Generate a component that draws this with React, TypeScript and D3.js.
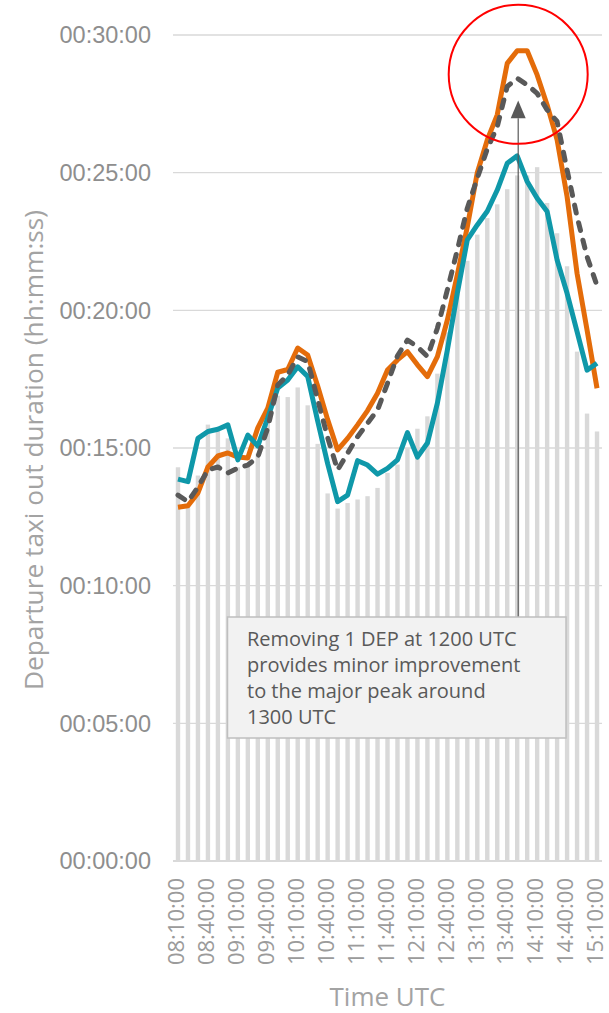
import React from "react";
import * as d3 from "d3";

// departure slots (10 min)
const times = [
  "08:10:00", "08:20:00", "08:30:00", "08:40:00", "08:50:00", "09:00:00",
  "09:10:00", "09:20:00", "09:30:00", "09:40:00", "09:50:00", "10:00:00",
  "10:10:00", "10:20:00", "10:30:00", "10:40:00", "10:50:00", "11:00:00",
  "11:10:00", "11:20:00", "11:30:00", "11:40:00", "11:50:00", "12:00:00",
  "12:10:00", "12:20:00", "12:30:00", "12:40:00", "12:50:00", "13:00:00",
  "13:10:00", "13:20:00", "13:30:00", "13:40:00", "13:50:00", "14:00:00",
  "14:10:00", "14:20:00", "14:30:00", "14:40:00", "14:50:00", "15:00:00",
  "15:10:00",
];

// values in minutes
const barValues = [
  14.3, 12.9, 14.0, 15.85, 15.65, 15.35, 14.3, 14.4, 14.8, 16.0, 16.9, 16.85,
  17.2, 16.55, 15.15, 13.35, 12.8, 13.0, 13.13, 13.25, 13.55, 14.1, 14.4, 15.0,
  15.7, 16.15, 17.7, 19.2, 20.6, 21.8, 22.75, 23.35, 23.85, 24.4, 24.9, 24.9,
  25.2, 23.9, 22.8, 21.6, 18.5, 16.25, 15.6,
];

const orangeValues = [
  12.85, 12.9, 13.37, 14.31, 14.71, 14.82, 14.67, 14.64, 15.73, 16.45, 17.75,
  17.85, 18.63, 18.38, 17.25, 16.03, 14.93, 15.35, 15.84, 16.36, 16.99, 17.83,
  18.2, 18.5, 18.02, 17.59, 18.32, 19.65, 21.29, 23.04, 25.0, 26.19, 27.1,
  28.97, 29.43, 29.43, 28.55, 27.46, 26.19, 24.13, 21.34, 19.29, 17.17,
];

const tealValues = [
  13.87, 13.78, 15.35, 15.6, 15.68, 15.84, 14.57, 15.47, 15.07, 16.1, 17.18,
  17.47, 17.95, 17.6, 15.98, 14.43, 13.05, 13.29, 14.54, 14.38, 14.05, 14.26,
  14.57, 15.56, 14.67, 15.18, 16.63, 18.56, 20.63, 22.56, 23.1, 23.6, 24.37,
  25.34, 25.61, 24.68, 24.07, 23.59, 21.83, 20.62, 19.23, 17.83, 18.08,
];

const dashedValues = [
  13.29, 13.05, 13.58, 14.2, 14.31, 14.09, 14.27, 14.38, 14.67, 15.73, 17.29,
  17.65, 18.31, 18.14, 16.76, 15.38, 14.2, 14.81, 15.41, 15.9, 16.38, 17.35,
  18.35, 18.92, 18.68, 18.32, 19.35, 20.74, 22.19, 23.71, 24.8, 25.86, 26.67,
  28.13, 28.43, 28.19, 27.88, 27.28, 26.86, 25.1, 23.4, 21.95, 20.9,
];

const yTicks = [0, 5, 10, 15, 20, 25, 30];

const noteLines = [
  "Removing 1 DEP at 1200 UTC",
  "provides minor improvement",
  "to the major peak around",
  "1300 UTC",
];
const noteTime = "13:50:00";

const fmt = (m: number) => {
  const s = Math.round(m * 60);
  const hh = String(Math.floor(s / 3600)).padStart(2, "0");
  const mm = String(Math.floor((s % 3600) / 60)).padStart(2, "0");
  const ss = String(s % 60).padStart(2, "0");
  return `${hh}:${mm}:${ss}`;
};

const W = 609;
const H = 1013;
const left = 173;
const right = 602;
const top = 35;
const bottom = 861;

export default function App() {
  const x = d3
    .scaleBand<string>()
    .domain(times)
    .range([left, right])
    .paddingInner(0.56)
    .paddingOuter(0.28);
  const xc = (t: string) => (x(t) || 0) + x.bandwidth() / 2;
  const y = d3.scaleLinear().domain([0, 30]).range([bottom, top]);

  const line = d3
    .line<number>()
    .x((_, i) => xc(times[i]))
    .y((d) => y(d));

  const arrowX = xc(noteTime) + 1;
  const tipY = y(27.62);
  const baseY = y(26.98);
  const circleY = y(28.57);

  const sans = "'Open Sans', 'DejaVu Sans', sans-serif";

  return (
    <svg
      width={W}
      height={H}
      style={{ position: "absolute", left: 0, top: 0, background: "#fff" }}
    >
      {/* gridlines */}
      {yTicks.map((t) => (
        <line
          key={t}
          x1={left}
          x2={right}
          y1={y(t)}
          y2={y(t)}
          stroke="#d9d9d9"
          strokeWidth={t === 0 ? 1.8 : 1.3}
        />
      ))}
      {yTicks.map((t) => (
        <text
          key={"yl" + t}
          x={151}
          y={y(t)}
          dy="0.35em"
          textAnchor="end"
          fontFamily="'Liberation Sans', Arial, sans-serif"
          fontSize={23.5}
          fill="#8e8e8e"
        >
          {fmt(t)}
        </text>
      ))}

      {/* bars */}
      {barValues.map((v, i) => (
        <rect
          key={"b" + i}
          x={x(times[i])}
          y={y(v)}
          width={x.bandwidth()}
          height={y(0) - y(v)}
          fill="#d9d9d9"
        />
      ))}

      {/* x tick labels */}
      {times.map((t, i) =>
        i % 3 === 0 ? (
          <text
            key={"xl" + t}
            transform={`translate(${xc(t) - 1},878) rotate(-90)`}
            dy="0.33em"
            textAnchor="end"
            fontFamily={sans}
            fontSize={22}
            fill="#9b9b9b"
          >
            {t}
          </text>
        ) : null
      )}

      {/* axis titles */}
      <text
        transform={`translate(42.5,${(top + bottom) / 2 + 2}) rotate(-90)`}
        textAnchor="middle"
        fontFamily={sans}
        fontSize={26.3}
        fill="#a3a3a3"
      >
        Departure taxi out duration (hh:mm:ss)
      </text>
      <text
        x={(left + right) / 2}
        y={1006}
        textAnchor="middle"
        fontFamily={sans}
        fontSize={26}
        fill="#a3a3a3"
      >
        Time UTC
      </text>

      {/* series */}
      <path
        d={line(orangeValues) || ""}
        fill="none"
        stroke="#e46c0a"
        strokeWidth={5}
        strokeLinejoin="round"
      />
      <path
        d={line(tealValues) || ""}
        fill="none"
        stroke="#0f98a9"
        strokeWidth={5}
        strokeLinejoin="round"
      />
      <path
        d={line(dashedValues) || ""}
        fill="none"
        stroke="#595959"
        strokeWidth={5}
        strokeDasharray="8,10"
        strokeLinecap="round"
        strokeLinejoin="round"
      />

      {/* annotation */}
      <line x1={arrowX} x2={arrowX} y1={617} y2={baseY} stroke="#595959" strokeWidth={1.2} />
      <path
        d={`M${arrowX},${tipY} L${arrowX - 7.5},${baseY} L${arrowX + 7.5},${baseY} Z`}
        fill="#595959"
      />
      <rect x={227.5} y={617} width={338.5} height={121} fill="#f2f2f2" stroke="#bfbfbf" strokeWidth={1.5} />
      {noteLines.map((l, i) => (
        <text
          key={"n" + i}
          x={247}
          y={645.7 + i * 26}
          fontFamily={sans}
          fontSize={20}
          fill="#595959"
        >
          {l}
        </text>
      ))}
      <circle cx={arrowX} cy={circleY} r={69.5} fill="none" stroke="#ff0000" strokeWidth={2} />
    </svg>
  );
}
